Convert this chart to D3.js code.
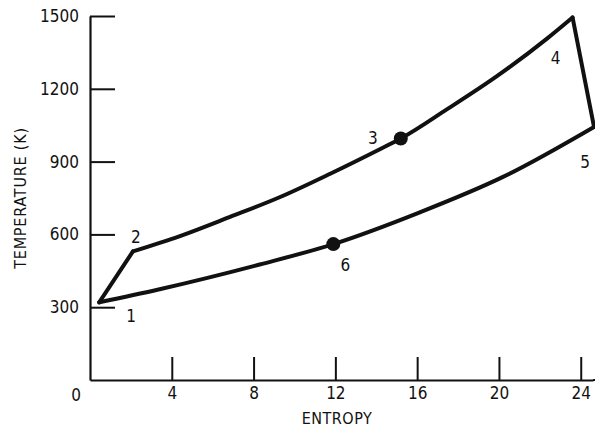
<!DOCTYPE html>
<html>
<head>
<meta charset="utf-8">
<script src="https://cdn.jsdelivr.net/npm/d3@7"></script>
<style>
  body { margin: 0; background: #fff; }
  svg { display: block; }
  text { font-family: "DejaVu Sans Condensed", "Liberation Sans Narrow", sans-serif; fill: #111; }
</style>
</head>
<body>
<div class="canvas"></div>
<script>
'use strict';

// entropy / temperature
var upperEntropy = [2.1, 4.4, 6.85, 9.3, 11.75, 14.2, 15.2, 17.45, 19.9, 22.35, 23.6];
var upperTemp    = [530, 593, 672, 754, 850, 952, 995, 1115, 1252, 1407, 1494];
var lowerEntropy = [0.45, 3.3, 8.3, 11.9, 16.1, 20.2, 24.65];
var lowerTemp    = [320, 372, 476, 560, 690, 837, 1043];

var stateLabels  = ['1', '2', '3', '4', '5', '6'];
var stateEntropy = [0.45, 2.1, 15.2, 23.6, 24.65, 11.9];
var stateTemp    = [320, 530, 995, 1494, 1043, 560];
var dotStates    = ['3', '6'];

var yTicks = [300, 600, 900, 1200, 1500];
var xTicks = [4, 8, 12, 16, 20, 24];

var W = 595, H = 432;
var FONT = '"DejaVu Sans Condensed", "Liberation Sans Narrow", sans-serif';
var x = d3.scaleLinear().domain([0, 24.6]).range([90, 593]);
var y = d3.scaleLinear().domain([0, 1500]).range([380, 16]);

var svg = d3.select('.canvas').append('svg')
  .attr('width', W)
  .attr('height', H);

// axes
var yAxis = svg.append('g')
  .attr('transform', 'translate(' + x(0) + ',0)')
  .call(d3.axisLeft(y).tickValues(yTicks).tickFormat(d3.format('d'))
    .tickSize(-25).tickSizeOuter(0).tickPadding(11));
var xAxis = svg.append('g')
  .attr('transform', 'translate(0,' + y(0) + ')')
  .call(d3.axisBottom(x).tickValues(xTicks).tickFormat(d3.format('d'))
    .tickSize(-23).tickSizeOuter(0).tickPadding(7));

[yAxis, xAxis].forEach(function(g) {
  g.selectAll('path.domain').attr('stroke', '#111').attr('stroke-width', 2.2);
  g.selectAll('.tick line').attr('stroke', '#111').attr('stroke-width', 2);
  g.selectAll('.tick text')
    .attr('fill', '#111')
    .style('font-family', FONT)
    .style('font-size', '17px');
});
// extend x axis to the right edge
xAxis.append('line')
  .attr('x1', x(24.6)).attr('x2', W)
  .attr('stroke', '#111').attr('stroke-width', 2.2);

svg.append('text')
  .attr('x', x(0) - 14)
  .attr('y', y(0) + 21)
  .attr('text-anchor', 'middle')
  .style('font-size', '17px')
  .text('0');

svg.append('text')
  .attr('x', 337)
  .attr('y', 424)
  .attr('text-anchor', 'middle')
  .style('font-size', '16px')
  .style('letter-spacing', '0.5px')
  .text('ENTROPY');

svg.append('text')
  .attr('transform', 'translate(26,198) rotate(-90)')
  .attr('text-anchor', 'middle')
  .style('font-size', '16px')
  .style('letter-spacing', '0.8px')
  .text('TEMPERATURE  (K)');

// cycle
function pts(xs, ys) {
  return xs.map(function(v, i) { return [x(v), y(ys[i])]; });
}
var smooth = d3.line().curve(d3.curveMonotoneX);
var straight = d3.line();

var paths = [
  straight(pts([stateEntropy[0], stateEntropy[1]], [stateTemp[0], stateTemp[1]])),
  smooth(pts(upperEntropy, upperTemp)),
  straight(pts([stateEntropy[3], stateEntropy[4]], [stateTemp[3], stateTemp[4]])),
  smooth(pts(lowerEntropy, lowerTemp))
];

svg.append('g')
  .selectAll('path')
  .data(paths)
  .enter()
  .append('path')
  .attr('d', function(d) { return d; })
  .attr('fill', 'none')
  .attr('stroke', '#111')
  .attr('stroke-width', 4)
  .attr('stroke-linecap', 'round');

svg.append('g')
  .selectAll('circle')
  .data(dotStates)
  .enter()
  .append('circle')
  .attr('cx', function(d) { return x(stateEntropy[stateLabels.indexOf(d)]); })
  .attr('cy', function(d) { return y(stateTemp[stateLabels.indexOf(d)]); })
  .attr('r', 7)
  .attr('fill', '#111');

// state number offsets
var labelDx = [32, 3, -28, -17, -9, 12];
var labelDy = [20, -8, 5, 47, 41, 27];

svg.append('g')
  .selectAll('text')
  .data(stateLabels)
  .enter()
  .append('text')
  .attr('x', function(d, i) { return x(stateEntropy[i]) + labelDx[i]; })
  .attr('y', function(d, i) { return y(stateTemp[i]) + labelDy[i]; })
  .attr('text-anchor', 'middle')
  .style('font-size', '17px')
  .text(function(d) { return d; });
</script>
</body>
</html>
